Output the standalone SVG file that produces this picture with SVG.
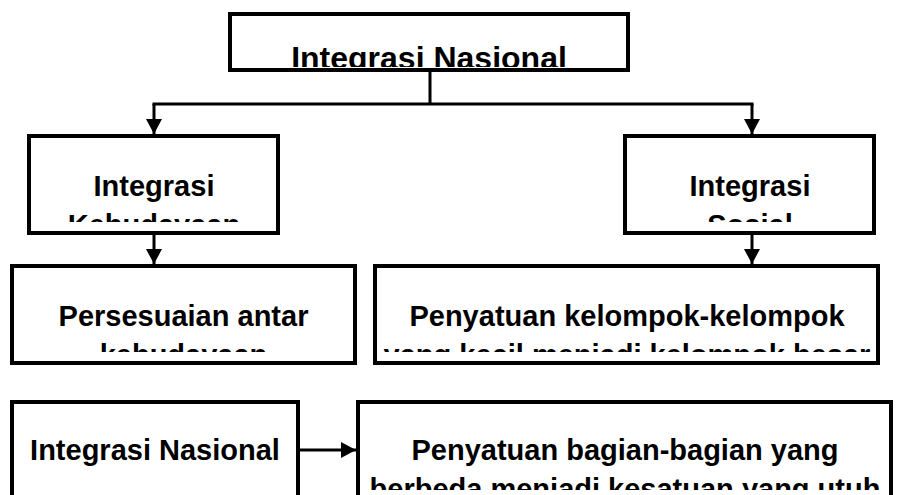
<svg xmlns="http://www.w3.org/2000/svg" width="899" height="495" viewBox="0 0 899 495">
<style>
.box{fill:#fff;stroke:#000;stroke-width:4}
.t{font-family:"Liberation Sans",Arial,sans-serif;font-weight:bold;font-size:29px;fill:#000;text-anchor:middle}
.big{font-size:32px}
.c{fill:none;stroke:#000;stroke-width:3}
</style>
<defs>
<marker id="ah" viewBox="0 0 15 16" refX="15" refY="8" markerWidth="15" markerHeight="16" markerUnits="userSpaceOnUse" orient="auto">
<path d="M0,0 L15,8 L0,16 z" fill="#000"/>
</marker>
<clipPath id="k1"><rect x="232" y="16" width="394" height="51"/></clipPath>
<clipPath id="k2"><rect x="31" y="138" width="245" height="84"/></clipPath>
<clipPath id="k3"><rect x="627" y="138" width="245" height="84"/></clipPath>
<clipPath id="k4"><rect x="14" y="268" width="339" height="84"/></clipPath>
<clipPath id="k5"><rect x="377" y="268" width="499" height="84"/></clipPath>
<clipPath id="k7"><rect x="360" y="404" width="529" height="86"/></clipPath>
</defs>
<rect width="899" height="495" fill="#fff"/>
<g id="connectors">
<path class="c" d="M430,72 V104 M152.5,104 H753.5"/>
<path class="c" d="M154,104 V134" marker-end="url(#ah)"/>
<path class="c" d="M752,104 V134" marker-end="url(#ah)"/>
<path class="c" d="M154,235 V264" marker-end="url(#ah)"/>
<path class="c" d="M752,235 V264" marker-end="url(#ah)"/>
<path class="c" d="M300,450 H356" marker-end="url(#ah)"/>
</g>
<g id="n1">
<rect class="box" x="230" y="14" width="398" height="56"/>
<text class="t big" x="429" y="69" clip-path="url(#k1)">Integrasi Nasional</text>
</g>
<g id="n2">
<rect class="box" x="29" y="136" width="249" height="97"/>
<g clip-path="url(#k2)"><text class="t" x="154" y="196">Integrasi</text><text class="t" x="154" y="235">Kebudayaan</text></g>
</g>
<g id="n3">
<rect class="box" x="625" y="136" width="249" height="97"/>
<g clip-path="url(#k3)"><text class="t" x="750" y="196">Integrasi</text><text class="t" x="750" y="235">Sosial</text></g>
</g>
<g id="n4">
<rect class="box" x="12" y="266" width="343" height="97"/>
<g clip-path="url(#k4)"><text class="t" x="183.5" y="326">Persesuaian antar</text><text class="t" x="183.5" y="365">kebudayaan</text></g>
</g>
<g id="n5">
<rect class="box" x="375" y="266" width="503" height="97"/>
<g clip-path="url(#k5)"><text class="t" x="627" y="326">Penyatuan kelompok-kelompok</text><text class="t" x="627" y="365">yang kecil menjadi kelompok besar</text></g>
</g>
<g id="n6">
<rect class="box" x="12" y="402" width="286" height="100"/>
<text class="t" x="155" y="460">Integrasi Nasional</text>
</g>
<g id="n7">
<rect class="box" x="358" y="402" width="533" height="100"/>
<g clip-path="url(#k7)"><text class="t" x="625" y="460">Penyatuan bagian-bagian yang</text><text class="t" x="625" y="499">berbeda menjadi kesatuan yang utuh</text></g>
</g>
</svg>
